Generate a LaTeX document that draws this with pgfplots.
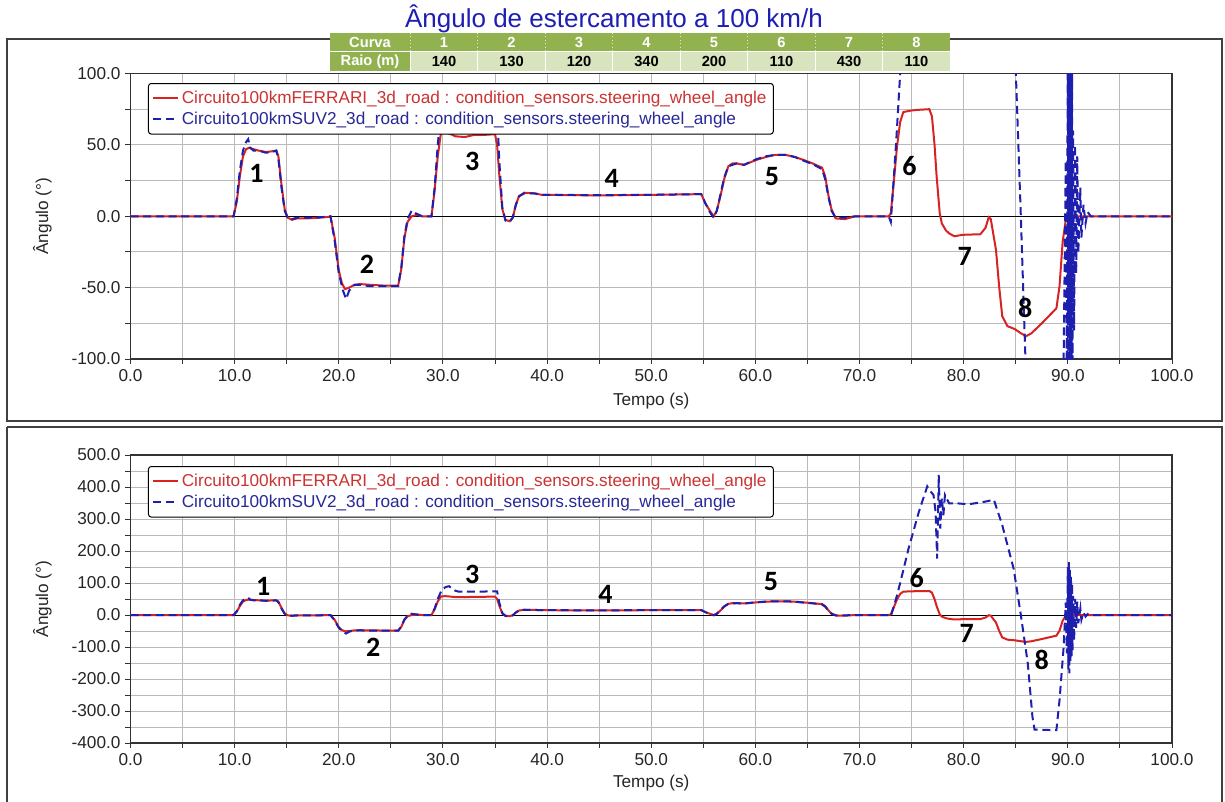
\documentclass[border=0pt]{standalone}
\usepackage{fontspec}
\setmainfont{Liberation Sans}
\newfontfamily\carlito{Carlito}
\usepackage{pgfplots}
\pgfplotsset{compat=1.18}
\usepackage{pgfplotstable}

\definecolor{cred}{RGB}{215,35,35}
\definecolor{cblue}{RGB}{30,30,175}
\definecolor{lred}{RGB}{205,50,50}
\definecolor{lblue}{RGB}{40,40,150}
\definecolor{tgreen}{RGB}{146,178,80}
\definecolor{tlight}{RGB}{216,228,190}
\definecolor{ttitle}{RGB}{30,30,180}

\pgfplotstableread{
t a
0 0
9.9 0
10.2 10
10.5 28
10.8 42
11.1 47
11.4 48
11.8 47
12.3 46
13.0 45
13.6 45.5
14.0 46
14.2 42
14.5 22
14.8 5
15.1 -1
15.5 -2.5
16.0 -1.5
17.0 -1.5
18.0 -1
19.0 -0.5
19.2 0
19.6 -15
20.0 -38
20.3 -47
20.6 -51
21.0 -50
21.5 -48
22.0 -47.5
23.0 -48
24.4 -48.6
25.7 -48.6
26.0 -37
26.3 -15
26.6 -4
27.0 0
27.5 1
28.0 0
28.9 0
29.2 18
29.5 42
29.8 58
30.2 59
30.6 58
31.2 56
32.1 55.5
33.0 57
34.0 57
35.0 57.5
35.2 50
35.4 30
35.7 5
36.0 -2.5
36.4 -3.5
36.7 -1
37.0 8
37.3 14
37.8 16.5
38.8 16
39.5 15
45.0 14.6
50.0 15
54.8 15.5
55.2 9
55.7 3
56.0 0
56.3 4
56.7 16
57.0 26
57.4 35
57.8 37
58.2 37
58.9 36
60.1 39.5
61.0 41.5
61.9 43
62.9 43
63.8 41.5
64.6 39.5
65.5 37
66.4 34
66.7 28
67.0 15
67.3 5
67.7 -1.5
68.6 -2
69.6 0
72.8 0
73.0 2
73.3 25
73.6 49
73.9 66
74.2 73
74.9 74
75.5 74.5
76.7 75
76.95 70
77.2 50
77.4 28
77.7 2
77.9 -5
78.3 -10
78.6 -12
79.1 -14
79.9 -13
81.6 -12.6
82.1 -8
82.4 -0.7
82.6 -2
83.1 -23.6
83.4 -49
83.7 -70
84.2 -77
84.9 -79
85.5 -82
86.0 -84
86.5 -82
87.5 -75
88.9 -64.5
89.2 -49
89.5 -18
89.8 -2.6
90.0 0
100 0
}\ferrari

\pgfplotstableread{
t a
0 0
9.9 0
10.2 12
10.5 32
10.8 46
11.1 52
11.3 54
11.5 48
11.8 46
12.3 46
13.0 44.5
13.6 45
14.0 46
14.2 40
14.5 20
14.8 4
15.1 -1.5
15.5 -2
16.0 -1
17.0 -1
18.0 -1
19.0 0
19.2 0
19.6 -17
20.0 -40
20.4 -52
20.7 -58
21.0 -52
21.5 -48
22.0 -48
23.0 -49
24.4 -49
25.7 -49
26.0 -36
26.3 -14
26.6 -2
27.0 4
27.4 2
28.0 0
28.9 0
29.2 20
29.5 50
29.9 80
30.3 88
30.6 90
31.0 78
31.5 73
33.0 73
35.2 74
35.4 40
35.7 6
36.0 -3
36.4 -4
36.7 -1
37.0 8
37.3 14
37.8 16
38.8 16
39.5 15
45 14.8
50 15
54.8 15.5
55.2 9
55.7 2
56.0 -1
56.3 4
56.7 17
57.0 27
57.4 35
57.8 36
58.2 37
58.9 36
60.1 40
61 42
61.9 43
62.9 43
63.8 41.5
64.6 39
65.5 36.5
66.4 33
66.7 26
67.0 14
67.3 4
67.7 -1
68.6 -1
69.6 0
72.8 0
73.0 -4
73.5 50
73.9 100
74.7 207
75.7 323
76.5 402
76.7 391
77.1 375
77.3 323
77.45 176
77.6 438
77.75 270
77.9 365
78.05 312
78.2 375
78.6 349
79.4 349
80.4 346
81.7 352
82.9 360
83.7 281
84.8 144
85.5 -3
86.15 -150
86.6 -318
86.8 -358
88.9 -360
89.2 -266
89.6 -98
89.8 39
89.9 -120
90.0 150
90.05 -170
90.1 165
90.15 -182
90.2 140
90.25 -150
90.3 120
90.35 -130
90.4 100
90.45 -110
90.5 60
90.6 -80
90.7 50
90.8 -40
90.9 42
91.0 -26
91.2 20
91.3 -15
91.5 8
91.7 -5
91.9 3
92.2 0
100 0
}\suv

\newcommand{\lblfont}{\fontsize{12.9}{15}\selectfont}
\newcommand{\numfont}{\carlito\bfseries\fontsize{21}{23}\selectfont}

\pgfplotsset{
  mystyle/.style={
    scale only axis, width=781.125pt,
    xmin=0, xmax=100,
    xtick={0,10,...,100},
    xticklabels={0.0,10.0,20.0,30.0,40.0,50.0,60.0,70.0,80.0,90.0,100.0},
    minor x tick num=1,
    minor y tick num=1,
    grid=both,
    major grid style={draw=black!27, line width=0.75pt},
    minor grid style={draw=black!27, line width=0.75pt},
    tick align=outside, tick pos=left,
    major tick length=4pt, minor tick length=4pt,
    tick style={black!80, line width=0.75pt},
    axis line style={black!80, line width=1pt},
    tick label style={font=\lblfont, text=black!85},
    label style={font=\lblfont, text=black!85},
    xlabel={Tempo (s)}, ylabel={Ângulo (°)},
    ylabel style={at={(axis description cs:-0.0847,0.5)}, anchor=center},
    legend cell align=left,
    legend style={draw=black, line width=0.75pt, fill=white, rounded corners=2pt,
      font=\lblfont, anchor=north west, inner xsep=3pt, inner ysep=3.5pt, row sep=1.2pt},
    legend image code/.code={\draw[##1] (0pt,0pt) -- (18.5pt,0pt);},
  }
}

\begin{document}
\begin{tikzpicture}
\begin{scope}[x=0.75pt,y=-0.75pt]
  \useasboundingbox (0,0) rectangle (1225,801);
  \fill[white] (0,0) rectangle (1225,801);
  \draw[black!75, line width=0.9pt] (7,39) rectangle (1222,421);
  \draw[black!75, line width=0.9pt] (7,427) -- (7,805) (7,427) -- (1222,427) -- (1222,805);
\end{scope}

% ---------- top axis ----------
\begin{axis}[mystyle,
  at={(97.875pt,-269.25pt)}, anchor=south west,
  height=214.125pt,
  ymin=-100, ymax=100,
  ytick={-100,-50,0,50,100},
  yticklabels={-100.0,-50.0,0.0,50.0,100.0},
  xlabel style={at={(axis description cs:0.5,-0.147)}, anchor=center},
  legend style={at={(0.0168,0.9667)}},
]
\addplot[black, line width=0.6pt, forget plot] coordinates {(0,0) (100,0)};
\addplot[cred, line width=1.5pt] table[x=t,y=a] {\ferrari};
\addlegendentry{\textcolor{lred}{Circuito100kmFERRARI\_3d\_road : condition\_sensors.steering\_wheel\_angle}}
\addplot[cblue, line width=1.5pt, dash pattern=on 6pt off 3.5pt] table[x=t,y=a] {\suv};
\addlegendentry{\textcolor{lblue}{Circuito100kmSUV2\_3d\_road : condition\_sensors.steering\_wheel\_angle}}
\node[font=\numfont] at (axis cs:12.1,29.8) {1};
\node[font=\numfont] at (axis cs:22.7,-34) {2};
\node[font=\numfont] at (axis cs:32.8,38.4) {3};
\node[font=\numfont] at (axis cs:46.2,26.8) {4};
\node[font=\numfont] at (axis cs:61.6,27.9) {5};
\node[font=\numfont] at (axis cs:74.8,35.4) {6};
\node[font=\numfont] at (axis cs:80.1,-28.1) {7};
\node[font=\numfont] at (axis cs:85.9,-64.3) {8};
\end{axis}

% ---------- bottom axis ----------
\begin{axis}[mystyle,
  at={(97.875pt,-557.25pt)}, anchor=south west,
  height=216pt,
  ymin=-400, ymax=500,
  ytick={-400,-300,...,500},
  yticklabels={-400.0,-300.0,-200.0,-100.0,0.0,100.0,200.0,300.0,400.0,500.0},
  xlabel style={at={(axis description cs:0.5,-0.139)}, anchor=center},
  legend style={at={(0.0168,0.9618)}},
]
\addplot[black, line width=0.6pt, forget plot] coordinates {(0,0) (100,0)};
\addplot[cred, line width=1.5pt] table[x=t,y=a] {\ferrari};
\addlegendentry{\textcolor{lred}{Circuito100kmFERRARI\_3d\_road : condition\_sensors.steering\_wheel\_angle}}
\addplot[cblue, line width=1.5pt, dash pattern=on 6pt off 3.5pt] table[x=t,y=a] {\suv};
\addlegendentry{\textcolor{lblue}{Circuito100kmSUV2\_3d\_road : condition\_sensors.steering\_wheel\_angle}}
\node[font=\numfont] at (axis cs:12.75,90) {1};
\node[font=\numfont] at (axis cs:23.3,-102) {2};
\node[font=\numfont] at (axis cs:32.8,126) {3};
\node[font=\numfont] at (axis cs:45.6,64) {4};
\node[font=\numfont] at (axis cs:61.5,105) {5};
\node[font=\numfont] at (axis cs:75.5,116) {6};
\node[font=\numfont] at (axis cs:80.3,-58) {7};
\node[font=\numfont] at (axis cs:87.5,-139) {8};
\end{axis}

% ---------- title and table ----------
\begin{scope}[x=0.75pt,y=-0.75pt]
  \node[text=ttitle, font=\fontsize{19.5}{22}\selectfont, anchor=base, inner sep=0pt] at (614,27.5) {Ângulo de estercamento a 100 km/h};
  \fill[tgreen] (329.5,33) rectangle (950.3,51.5);
  \fill[tgreen] (329.5,51.5) rectangle (410.3,70.5);
  \fill[tlight] (410.3,51.5) rectangle (950.3,70.5);
  \foreach \k in {0,...,7} {
    \draw[white!75!tgreen, line width=0.6pt, dotted] ({410.3+\k*67.5},33) -- ({410.3+\k*67.5},51.5);
    \draw[white, line width=0.8pt] ({410.3+\k*67.5},51.5) -- ({410.3+\k*67.5},70.5);
  }
  \draw[white, line width=0.6pt] (329.5,51.5) -- (950.3,51.5);
  \node[text=white, font=\bfseries\fontsize{11}{13}\selectfont] at (370,42.5) {Curva};
  \node[text=white, font=\bfseries\fontsize{11}{13}\selectfont] at (370,61.5) {Raio (m)};
  \foreach \n/\r [count=\i from 0] in {1/140,2/130,3/120,4/340,5/200,6/110,7/430,8/110} {
    \node[text=white, font=\bfseries\fontsize{11}{13}\selectfont] at ({444+\i*67.5},42.5) {\n};
    \node[text=black, font=\bfseries\fontsize{11}{13}\selectfont] at ({444+\i*67.5},61.5) {\r};
  }
\end{scope}
\end{tikzpicture}
\end{document}
